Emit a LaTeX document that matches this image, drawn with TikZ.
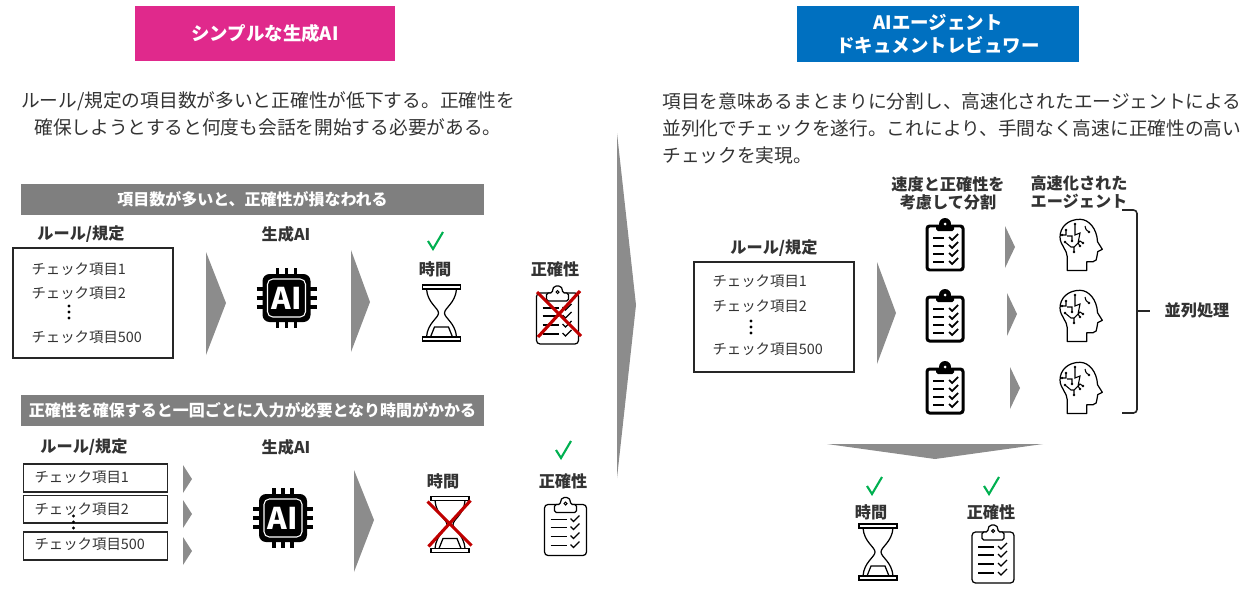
\documentclass[tikz,border=0pt]{standalone}
\usepackage{xcolor}
\usepackage{fontspec}
\setmainfont{Noto Sans CJK JP}
\usepackage{tikz}
\usetikzlibrary{positioning,calc}
\definecolor{aipink}{RGB}{224,41,140}
\definecolor{aiblue}{RGB}{0,112,192}
\definecolor{bandgray}{RGB}{127,127,127}
\definecolor{chevgray}{RGB}{140,140,140}
\definecolor{okgreen}{RGB}{0,176,80}
\definecolor{ngred}{RGB}{192,0,0}
\definecolor{inkgray}{RGB}{51,51,51}
\newcommand{\fpx}[2]{\fontsize{#1}{#2}\selectfont}

\tikzset{
  okcheck/.pic={\draw[okgreen, line width=1.2pt, line join=miter] (-7,0) -- (-2,8) -- (8,-9);},
  crossout/.pic={
    \draw[ngred, line width=1.8pt] (-22,-22) -- (22,22);
    \draw[ngred, line width=1.8pt] (21,-23) -- (-21,23);
  },
  hourglass/.pic={
    \draw[line width=0.7pt, fill=white] (-19,-28) rectangle (19,-24);
    \draw[line width=0.7pt, fill=white] (-19,24) rectangle (19,28);
    \draw[line width=0.7pt] (-15,-24) .. controls (-14,-10) and (-3,-5) .. (-3,0)
      .. controls (-3,5) and (-14,10) .. (-15,24);
    \draw[line width=0.7pt] (15,-24) .. controls (14,-10) and (3,-5) .. (3,0)
      .. controls (3,5) and (14,10) .. (15,24);
    \draw[line width=0.7pt] (-11,24) -- (-7,14) -- (7,14) -- (11,24);
  },
  clipboard/.pic={
    \draw[line width=0.7pt, rounded corners=2pt] (-21,-22) rectangle (21,29);
    \draw[line width=0.7pt, fill=white, rounded corners=1pt] (-11,-14) -- (-11,-22) -- (-5,-22)
      -- (-5,-26) -- (-3,-29) -- (3,-29) -- (5,-26) -- (5,-22) -- (11,-22) -- (11,-14) -- cycle;
    \draw[line width=0.6pt] (0,-23) circle (1.5);
    \foreach \rowy in {-7,1,10,19} {
      \draw[line width=0.7pt] (-15,\rowy) -- (1,\rowy);
      \draw[line width=0.7pt] (5,\rowy-1) -- (8,\rowy+2) -- (14,\rowy-4);
    }
  },
  boldclip/.pic={
    \draw[line width=1.7pt, rounded corners=1.5pt] (-18,-20) rectangle (18,24);
    \fill[rounded corners=1pt] (-9,-15) rectangle (9,-21);
    \fill (0,-22) circle (6);
    \fill[white] (0,-22) circle (1.5);
    \foreach \rowy in {-8,0,8,16} {
      \draw[line width=1.4pt] (-12,\rowy) -- (-1,\rowy);
      \draw[line width=1pt] (4,\rowy-1) -- (7,\rowy+2) -- (13,\rowy-4);
    }
  },
  aihead/.pic={
    \draw[line width=0.7pt, line join=round] (-13.7,25.5) -- (5.7,25.5) -- (5.7,16.7) -- (12,16.7)
      .. controls (15,16.7) and (16,14) .. (16,11) -- (16.7,6.7) -- (21.3,4.3) -- (16.5,-3.3)
      .. controls (16,-16) and (8,-25.7) .. (-1,-25.7)
      .. controls (-13,-25.7) and (-21,-18) .. (-21,-8)
      .. controls (-21,0) and (-13.7,5) .. (-13.7,12) -- cycle;
    \draw[line width=0.6pt] (-15,-15) -- (-15,-10) -- (-19,-10)
      (-6,-21) -- (-6,-10) -- (-1,-12) -- (-3,-2) -- (-1,1)
      (4,-19) .. controls (5,-15) .. (8,-13)
      (-16,-3) -- (-10,2) -- (-7,2) -- (-1,-4) -- (-1,-4) -- (2,-2)
      (-7,2) -- (-7,7)
      (-14,-9) -- (-9,-9) -- (-9,-4);
    \foreach \dotx/\doty in {-15/-15,-6/-21,-16/-3,2/-2,-7/7,8/-13,-9/-4,-19/-10,-1/1} {
      \fill (\dotx,\doty) circle (1.4);
    }
  },
  chipai/.pic={
    \foreach \off in {-9,0,9} {
      \draw[line width=2pt] (\off,-30) -- (\off,30);
      \draw[line width=2pt] (-30,\off) -- (30,\off);
    }
    \fill[black, rounded corners=4pt] (-24,-24) rectangle (24,24);
    \draw[white, line width=0.6pt, rounded corners=3pt] (-19,-19) rectangle (19,19);
    \node[white, inner sep=0pt, font=\bfseries\fontsize{17}{17}\selectfont] (-lbl) at (0,0) {AI};
  }
}

\begin{document}
\begin{tikzpicture}[x=0.02cm, y=-0.02cm, node distance=1.6pt, text=inkgray]
  \tikzstyle{titlebox} = [text=white, font=\bfseries\fpx{10.5}{13.5}, align=center, inner sep=0pt]
  \tikzstyle{band} = [fill=bandgray, text=white, font=\bfseries\fpx{9.1}{11}, minimum width=9.26cm, minimum height=0.62cm, inner sep=0pt]
  \tikzstyle{para} = [font=\fpx{10.65}{15.5}, inner sep=0pt]
  \tikzstyle{label} = [font=\bfseries\fpx{9.2}{10.6}, align=center, inner sep=0pt]
  \tikzstyle{item} = [font=\fpx{8.2}{10}, text width=2.3cm, align=left, text height=9pt, text depth=3pt, inner sep=0pt]
  \tikzstyle{listbox} = [draw=black!85, line width=0.9pt, minimum width=3.2cm, minimum height=2.2cm]
  \tikzstyle{rowbox} = [draw=black!85, line width=0.9pt, minimum width=2.88cm, minimum height=0.55cm]
  \tikzstyle{chev} = [fill=chevgray]

  \useasboundingbox (0,0) rectangle (1253,592);

  % headers
  \node[fill=aipink, minimum width=5.2cm, minimum height=1.1cm, titlebox] (simple) at (265,33.5) {シンプルな生成AI};
  \node[fill=aiblue, minimum width=5.64cm, minimum height=1.12cm, titlebox] (agent) at (938,34) {AIエージェント\\ドキュメントレビュワー};

  \node[para, align=center] (paraleft) at (268,114) {ルール/規定の項目数が多いと正確性が低下する。正確性を\\確保しようとすると何度も会話を開始する必要がある。};
  \node[para, align=left, anchor=north west] (pararight) at (662,92) {項目を意味あるまとまりに分割し、高速化されたエージェントによる\\並列化でチェックを遂行。これにより、手間なく高速に正確性の高い\\チェックを実現。};

  % divider arrow
  \fill[chev] (617,133) -- (636,305) -- (617,478) -- cycle;

  % upper left row
  \node[band] (bandone) at (252.5,199.5) {項目数が多いと、正確性が損なわれる};
  \node[label] (ruleone) at (81,234) {ルール/規定};
  \node[listbox] (listone) at (93,303) {};
  \node[item] (itemonea) at (89,269) {チェック項目1};
  \node[item] (itemoneb) [below=of itemonea] {チェック項目2};
  \node[item] (itemonec) [below=12.4pt of itemoneb] {チェック項目500};
  \foreach \doty in {306,312,318} { \fill (69,\doty) circle (1.6); }
  \fill[chev] (206,252) -- (226,303) -- (206,355) -- cycle;
  \node[label] (genone) at (286,234) {生成AI};
  \pic (chipone) at (286.5,298) {chipai};
  \fill[chev] (351,250) -- (370,302) -- (351,352) -- cycle;
  \pic (checkone) at (435,241) {okcheck};
  \node[label] (timeone) at (435,269.5) {時間};
  \pic (glassone) at (441.5,313) {hourglass};
  \node[label] (accone) at (555,269.5) {正確性};
  \pic (clipone) at (557.5,315) {clipboard};
  \pic (crossone) at (559,314) {crossout};

  % lower left row
  \node[band] (bandtwo) at (252.5,410.5) {正確性を確保すると一回ごとに入力が必要となり時間がかかる};
  \node[label] (ruletwo) at (84,447) {ルール/規定};
  \node[rowbox] (rowa) at (95.5,478) {};
  \node[rowbox] (rowb) [below=1.3pt of rowa] {};
  \node[rowbox] (rowc) at (95.5,546) {};
  \node[item] (itemtwoa) at (92,477.5) {チェック項目1};
  \node[item] (itemtwob) at (92,509.5) {チェック項目2};
  \node[item] (itemtwoc) at (92,544.5) {チェック項目500};
  \foreach \doty in {516,522,528} { \fill (73.5,\doty) circle (1.6); }
  \fill[chev] (183,465) -- (192,479) -- (183,493) -- cycle;
  \fill[chev] (183,500) -- (192,514) -- (183,528) -- cycle;
  \fill[chev] (183,537) -- (192,551) -- (183,565) -- cycle;
  \node[label] (gentwo) at (286,447) {生成AI};
  \pic (chiptwo) at (283,518) {chipai};
  \fill[chev] (354,470) -- (374,520) -- (354,572) -- cycle;
  \node[label] (timetwo) at (443,481.5) {時間};
  \pic (glasstwo) at (450,524.5) {hourglass};
  \pic (crosstwo) at (449.5,523.5) {crossout};
  \pic (checktwo) at (563,450) {okcheck};
  \node[label] (acctwo) at (563,481.5) {正確性};
  \pic (cliptwo) at (565.5,526.5) {clipboard};

  % right side
  \node[label] (ruleright) at (774,248) {ルール/規定};
  \node[listbox] (listright) at (774,317) {};
  \node[item] (itemra) at (770,281) {チェック項目1};
  \node[item] (itemrb) [below=of itemra, yshift=-0.4pt] {チェック項目2};
  \node[item] (itemrc) [below=12pt of itemrb] {チェック項目500};
  \foreach \doty in {321,327,333} { \fill (751,\doty) circle (1.6); }
  \fill[chev] (877,262) -- (896,313) -- (877,364) -- cycle;
  \node[label] (splitlabel) at (948,193.5) {速度と正確性を\\考慮して分割};
  \node[label] (fastlabel) at (1079,192) {高速化された\\エージェント};
  \foreach \n/\cy in {a/246,b/317,c/389} {
    \pic (clip\n) at (945,\cy) {boldclip};
    \pic (head\n) at (1081,\cy-1) {aihead};
  }
  \fill[chev] (1005,226) -- (1015,247) -- (1005,268) -- cycle;
  \fill[chev] (1007,293) -- (1017,314) -- (1007,336) -- cycle;
  \fill[chev] (1010,367) -- (1020,388) -- (1010,409) -- cycle;
  \node[label] (parallel) at (1197,310) {並列処理};
  \coordinate (brtop) at (1122,210);
  \coordinate (brbot) at (1122,413);
  \coordinate (brtip) at (1150,311);
  \draw[line width=0.9pt, black!85, rounded corners=2pt] (brtop) -- (1137,210) -- (1137,413) -- (brbot);
  \draw[line width=0.9pt, black!85] (1137,311) -- (brtip);
  \fill[chev] (827,444) -- (1043,444) -- (935,459) -- cycle;
  \pic (checkra) at (874,486) {okcheck};
  \pic (checkrb) at (991,486) {okcheck};
  \node[label] (timeright) at (871,512) {時間};
  \node[label] (accright) at (991,512) {正確性};
  \pic (glassright) at (878,552) {hourglass};
  \pic (clipright) at (993,554) {clipboard};
\end{tikzpicture}
\end{document}
